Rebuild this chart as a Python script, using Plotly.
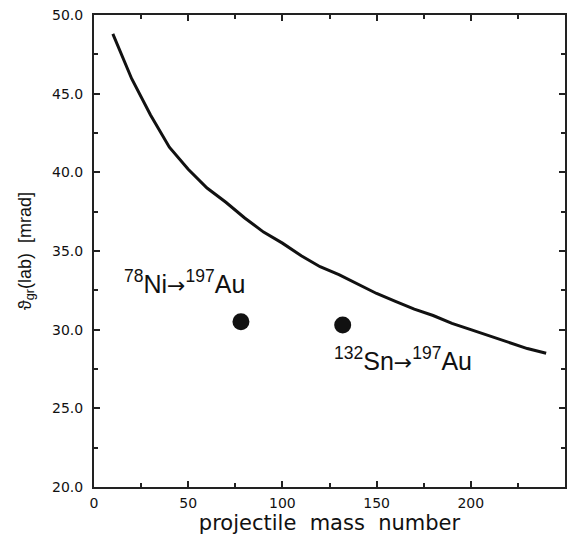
import plotly.graph_objects as go

mass_number = [10, 20, 30, 40, 50, 60, 70, 80, 90, 100, 110, 120, 130, 140,
               150, 160, 170, 180, 190, 200, 210, 220, 230, 240]
theta_gr = [48.8, 45.95, 43.65, 41.6, 40.2, 39.0, 38.1, 37.1, 36.2, 35.5, 34.7,
            34.0, 33.5, 32.9, 32.3, 31.8, 31.3, 30.9, 30.4, 30.0, 29.6, 29.2,
            28.8, 28.5]

case_mass = [78, 132]
case_theta = [30.5, 30.3]
arrow = "<span style=\"font-family:DejaVu Sans;font-size:22px\">\u2192</span>"
case_labels = ["<sup>78</sup>Ni" + arrow + "<sup>197</sup>Au",
               "<sup>132</sup>Sn" + arrow + "<sup>197</sup>Au"]
label_x = [14.8, 126.5]
label_y = [31.9, 27.0]

fig = go.Figure()
fig.add_trace(go.Scatter(x=mass_number, y=theta_gr, mode="lines",
                         line=dict(color="#111111", width=3), showlegend=False))
fig.add_trace(go.Scatter(x=case_mass, y=case_theta, mode="markers",
                         marker=dict(color="#111111", size=17), showlegend=False))

for tx, ty, t in zip(label_x, label_y, case_labels):
    fig.add_annotation(x=tx, y=ty, text=t, showarrow=False, xanchor="left",
                       yanchor="bottom", font=dict(family="Liberation Sans", size=25,
                                                   color="#111111"))

axis_common = dict(showline=True, linecolor="#222222", linewidth=2, mirror="ticks",
                   ticks="inside", ticklen=6, tickwidth=1.5, tickcolor="#222222",
                   showgrid=False, zeroline=False,
                   tickfont=dict(family="DejaVu Sans", size=14, color="#111111"))

fig.update_layout(
    width=574, height=543,
    margin=dict(l=94, r=7, t=13, b=56),
    paper_bgcolor="white", plot_bgcolor="white",
    xaxis=dict(range=[0, 250], tickvals=[0, 50, 100, 150, 200],
               ticklabelstandoff=2,
               minor=dict(dtick=25, ticks="inside", ticklen=4, tickcolor="#222222"),
               title=dict(text="projectile\u00a0 mass\u00a0 number", standoff=6,
                          font=dict(family="DejaVu Sans", size=21, color="#111111")),
               **axis_common),
    yaxis=dict(range=[20, 50], dtick=5, tickformat=".1f",
               ticklabelstandoff=6,
               minor=dict(dtick=2.5, ticks="inside", ticklen=4, tickcolor="#222222"),
               title=dict(text="\u03d1<sub>gr</sub>(lab)\u00a0 [mrad]", standoff=16,
                          font=dict(family="Liberation Sans", size=18, color="#111111")),
               **axis_common),
)

fig.write_html("out.html")
